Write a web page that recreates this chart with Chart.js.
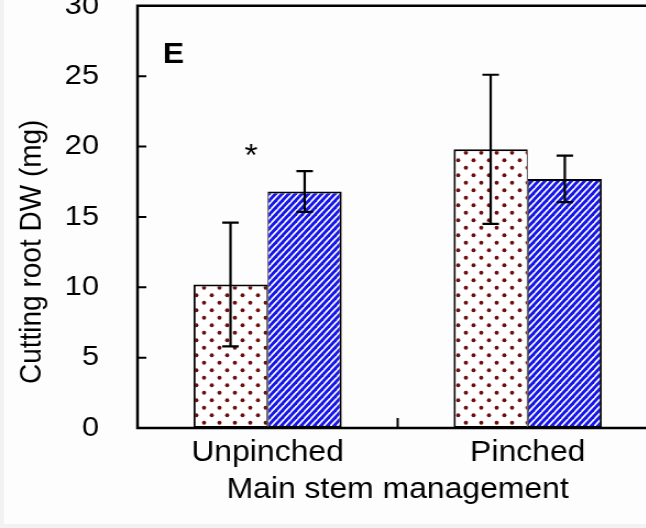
<!DOCTYPE html>
<html>
<head>
<meta charset="utf-8">
<script src="https://cdn.jsdelivr.net/npm/chart.js@4.4.1/dist/chart.umd.min.js"></script>
<style>
  html, body { margin: 0; padding: 0; background: #fdfdfd; }
  #frame { position: relative; width: 646px; height: 528px; overflow: hidden; background: #f2f2f2; }
  #paper { position: absolute; left: 4px; top: 0; right: 0; bottom: 4px; background: #fdfdfd; }
  /* the figure is drawn slightly narrow and widened by 10% */
  #c { position: absolute; left: 0; top: -46px; width: 682px; height: 600px; }
</style>
</head>
<body>
<div id="frame">
  <div id="paper"></div>
  <canvas id="c" width="620" height="600" style="width:682px;height:600px"></canvas>
</div>
<script>
// Cutting root dry weight by main stem management
const categories = ['Unpinched', 'Pinched'];
const dottedMeans = [10.2, 19.8];
const dottedErrors = [4.4, 5.3];
const hatchedMeans = [16.8, 17.7];
const hatchedErrors = [1.45, 1.65];
const yTicks = [0, 5, 10, 15, 20, 25, 30];

const FONT = "'Liberation Sans', Arial, Helvetica, sans-serif";

function dotPattern() {
  const t = document.createElement('canvas');
  t.width = 14; t.height = 15;
  const g = t.getContext('2d');
  g.fillStyle = '#ffffff';
  g.fillRect(0, 0, 14, 15);
  g.fillStyle = '#6e0e0e';
  [[3.5, 3.75], [10.5, 11.25]].forEach(([x, y]) => {
    g.beginPath(); g.arc(x, y, 1.9, 0, Math.PI * 2); g.fill();
  });
  return g.createPattern(t, 'repeat');
}

function hatchPattern() {
  const W = 6, H = 7;
  const t = document.createElement('canvas');
  t.width = W; t.height = H;
  const g = t.getContext('2d');
  g.fillStyle = '#ffffff';
  g.fillRect(0, 0, W, H);
  g.strokeStyle = 'rgb(22,22,232)';
  g.lineWidth = 2.8;
  for (let k = 0; k <= 2; k++) {
    g.beginPath();
    g.moveTo(-W, (k + 1) * H);
    g.lineTo((k + 1) * W, -H);
    g.stroke();
  }
  return g.createPattern(t, 'repeat');
}

const errorsBySet = [dottedErrors, hatchedErrors];

const decorations = {
  id: 'decorations',
  afterDatasetsDraw(chart) {
    const { ctx, chartArea: a, scales } = chart;
    const x = scales.x, y = scales.y;
    ctx.save();
    ctx.strokeStyle = '#000';
    ctx.lineCap = 'butt';

    // error bars
    ctx.lineWidth = 2.2;
    chart.data.datasets.forEach((ds, i) => {
      const meta = chart.getDatasetMeta(i);
      meta.data.forEach((bar, j) => {
        const v = ds.data[j], e = errorsBySet[i][j];
        const yt = y.getPixelForValue(v + e), yb = y.getPixelForValue(v - e);
        ctx.beginPath();
        ctx.moveTo(bar.x, yt); ctx.lineTo(bar.x, yb);
        ctx.moveTo(bar.x - 7.5, yt); ctx.lineTo(bar.x + 7.5, yt);
        ctx.moveTo(bar.x - 7.5, yb); ctx.lineTo(bar.x + 7.5, yb);
        ctx.stroke();
      });
    });

    // plot frame: left axis, bottom axis and top border
    ctx.lineWidth = 2.5;
    ctx.beginPath();
    ctx.moveTo(a.right + 10, a.top);
    ctx.lineTo(a.left, a.top);
    ctx.lineTo(a.left, a.bottom);
    ctx.lineTo(a.right + 10, a.bottom);
    ctx.stroke();

    // inward tick marks
    ctx.lineWidth = 2;
    ctx.beginPath();
    yTicks.slice(1, -1).forEach(t => {
      const py = y.getPixelForValue(t);
      ctx.moveTo(a.left, py); ctx.lineTo(a.left + 8, py);
    });
    for (let j = 0; j < categories.length - 1; j++) {
      const px = (x.getPixelForValue(j) + x.getPixelForValue(j + 1)) / 2;
      ctx.moveTo(px, a.bottom); ctx.lineTo(px, a.bottom - 10);
    }
    ctx.stroke();

    ctx.fillStyle = '#000';
    // panel letter
    ctx.font = 'bold 29px ' + FONT;
    ctx.textAlign = 'left';
    ctx.textBaseline = 'alphabetic';
    ctx.fillText('E', a.left + 23, a.top + 57);

    // significance mark
    ctx.font = '31px ' + FONT;
    ctx.textAlign = 'center';
    ctx.fillText('*', x.getPixelForValue(0) - 15, y.getPixelForValue(19.7) + 15);

    // axis titles
    ctx.font = '29px ' + FONT;
    ctx.fillText('Main stem management', (a.left + a.right) / 2, a.bottom + 70);
    ctx.save();
    ctx.translate(36.5, a.top + 246);
    ctx.rotate(-Math.PI / 2);
    ctx.font = '28px ' + FONT;
    ctx.fillText('Cutting root DW (mg)', 0, 0);
    ctx.restore();

    ctx.restore();
  }
};

const noFrameScale = { display: false, drawTicks: false };

new Chart(document.getElementById('c'), {
  type: 'bar',
  data: {
    labels: categories,
    datasets: [
      {
        label: 'Dotted',
        data: dottedMeans,
        backgroundColor: dotPattern(),
        borderColor: '#000',
        borderWidth: { left: 2, right: 1, top: 2, bottom: 2 },
        borderSkipped: false
      },
      {
        label: 'Hatched',
        data: hatchedMeans,
        backgroundColor: hatchPattern(),
        borderColor: '#000',
        borderWidth: { left: 1, right: 2, top: 2, bottom: 2 },
        borderSkipped: false
      }
    ]
  },
  options: {
    responsive: false,
    animation: false,
    events: [],
    layout: { padding: { top: 40, right: 22, left: 0, bottom: 0 } },
    datasets: { bar: { categoryPercentage: 0.57, barPercentage: 1.0 } },
    plugins: { legend: { display: false }, tooltip: { enabled: false } },
    scales: {
      x: {
        offset: true,
        grid: noFrameScale,
        border: { display: false },
        ticks: { color: '#000', font: { family: FONT, size: 29 }, padding: 8 },
        afterFit(s) { s.height = 126; }
      },
      y: {
        min: 0,
        max: 30,
        afterBuildTicks(s) { s.ticks = yTicks.map(v => ({ value: v })); },
        grid: noFrameScale,
        border: { display: false },
        ticks: { color: '#000', font: { family: FONT, size: 28 }, padding: 35 },
        afterFit(s) { s.width = 125; }
      }
    }
  },
  plugins: [decorations]
});
</script>
</body>
</html>
